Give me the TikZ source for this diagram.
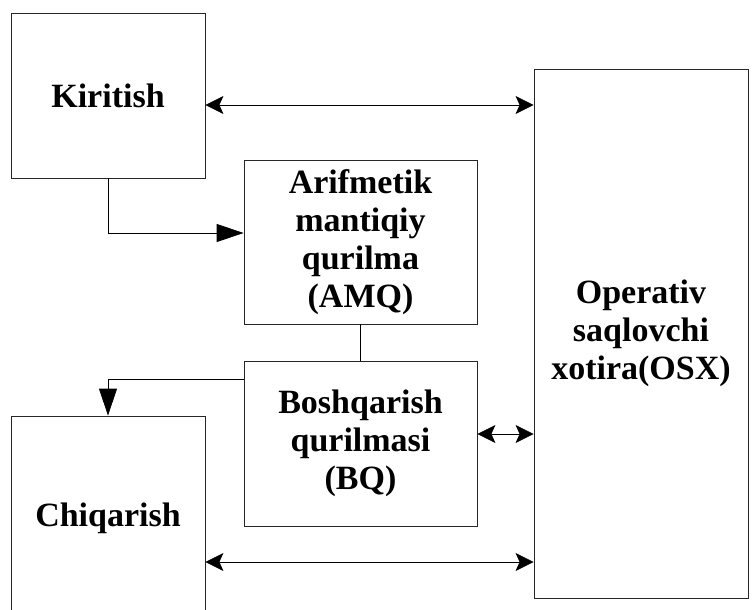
\documentclass[tikz,border=0pt]{standalone}
\usepackage{fontspec}
\setmainfont{Liberation Serif}
\usetikzlibrary{arrows.meta}
\begin{document}
\begin{tikzpicture}[x=1pt,y=-1pt,
  unit/.style={draw=black!85, line width=0.8pt, inner sep=0pt, align=center,
    font=\fontsize{34}{38}\selectfont\bfseries},
  link/.style={line width=0.8pt, draw=black},
  dbl/.style={link, {Stealth[length=18pt,width=18pt,inset=4pt]}-{Stealth[length=18pt,width=18pt,inset=4pt]}},
  sgl/.style={link, -{Triangle[length=27pt,width=18pt]}}]
\clip (0,0) rectangle (756,610);
\useasboundingbox (0,0) rectangle (756,610);
% blocks of the computer
\node[unit, minimum width=194pt, minimum height=165pt] (K) at (108,95.5) {Kiritish};
\node[unit, minimum width=233pt, minimum height=164pt] (A) at (360.5,242) {Arifmetik\\mantiqiy\\qurilma\\(AMQ)};
\node[unit, minimum width=233pt, minimum height=165pt] (B) at (360.5,443.5) {Boshqarish\\qurilmasi\\(BQ)};
\node[unit, minimum width=214pt, minimum height=529pt] (O) at (641,333.5) {Operativ\\saqlovchi\\xotira(OSX)};
\node[unit, minimum width=194pt, minimum height=204pt] (C) at (108,518) {Chiqarish};
% data and control paths
\draw[dbl] (K.east |- 0,105) -- (O.west |- 0,105);
\draw[sgl] (K.south) |- (A.west |- 0,233);
\draw[link] (A.south) -- (B.north);
\draw[sgl] (B.west |- 0,379) -| (C.north);
\draw[dbl] (B.east |- 0,434) -- (O.west |- 0,434);
\draw[dbl] (C.east |- 0,562) -- (O.west |- 0,562);
\end{tikzpicture}
\end{document}
